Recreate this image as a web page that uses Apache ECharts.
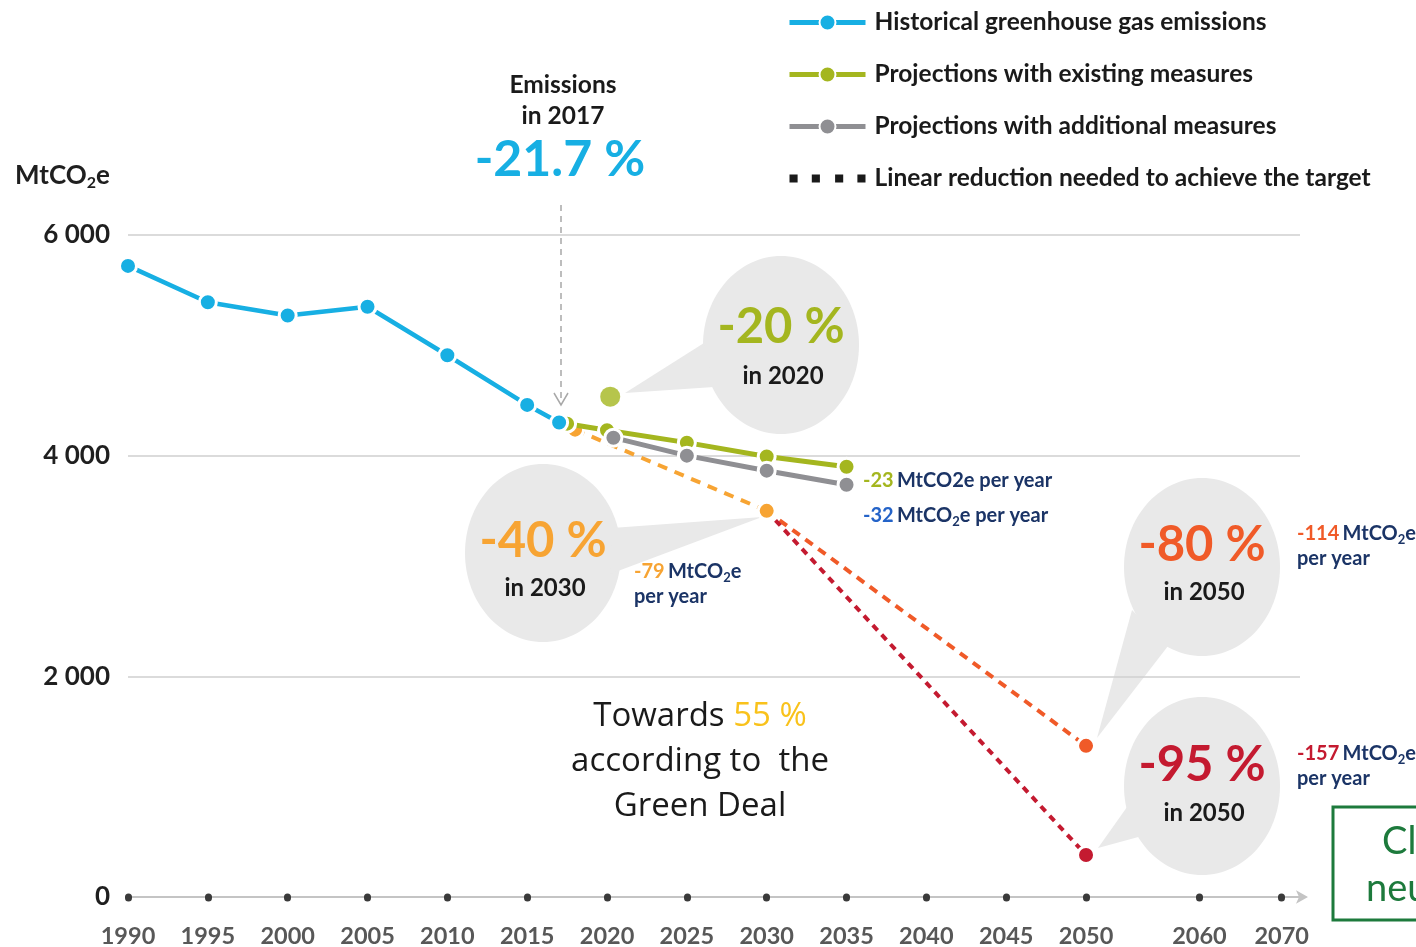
<!DOCTYPE html>
<html>
<head>
<meta charset="utf-8">
<title>Greenhouse gas emissions</title>
<script src="https://cdn.jsdelivr.net/npm/echarts@6/dist/echarts.min.js"></script>
<style>
html, body { margin: 0; padding: 0; background: #fff; }
#chart { width: 1416px; height: 947px; }
</style>
</head>
<body>
<div id="chart"></div>
<script>
// tick labels
const yearTicks = [1990, 1995, 2000, 2005, 2010, 2015, 2020, 2025, 2030, 2035, 2040, 2045, 2050]
// after 2050 the axis is squeezed, so 2060 / 2070 sit closer together
const farTickLabels = ['2060', '2070']
const farTickPos = [2057.1, 2062.25]

// series values [year, MtCO2e]
const historical = [[1990, 5720], [1995, 5390], [2000, 5270], [2005, 5350], [2010, 4910], [2015, 4460], [2017, 4300]]
const existing = [[2017.5, 4290], [2020, 4230], [2025, 4118], [2030, 3992], [2035, 3900]]
const additional = [[2020.4, 4163], [2025, 4000], [2030, 3864], [2035, 3737]]
const target2020 = [[2020.2, 4535]]
const path2030 = [[2018, 4236], [2030, 3500]]
const path2050a = [[2030, 3500], [2050, 1370]]
const path2050b = [[2030, 3500], [2050, 381]]

const CYAN = '#17afe3', GREEN = '#a4b61f', GREY = '#8f8f93'
const ORANGE = '#f7a433', RED_OR = '#f05a28', CRIMSON = '#c41a30'
const NAVY = '#1b3466', BUBBLE = '#e9e9e9'
const FONT = 'Lato'
const W = 'bold'

const chart = echarts.init(document.getElementById('chart'))

//带白边的圆点
function dot(color, size) {
    return {
        symbol: 'circle',
        symbolSize: size,
        itemStyle: { color: color, borderColor: '#fff', borderWidth: 3 }
    }
}

function bubble(cx, cy, tail, big, bigColor, small, bigY, smallY) {
    return {
        type: 'group',
        z: 0,
        children: [
            { type: 'ellipse', shape: { cx: cx, cy: cy, rx: 78, ry: 89 }, style: { fill: BUBBLE } },
            { type: 'polygon', shape: { points: tail }, style: { fill: BUBBLE } },
            {
                type: 'text', x: cx, y: bigY,
                style: { text: big, fill: bigColor, fontFamily: FONT, fontWeight: W, fontSize: 49, align: 'center', verticalAlign: 'middle' }
            },
            {
                type: 'text', x: cx + 2, y: smallY,
                style: { text: small, fill: '#1a1a1a', fontFamily: FONT, fontWeight: W, fontSize: 24, align: 'center', verticalAlign: 'middle' }
            }
        ]
    }
}

// rich text styles for "MtCO2e" with subscript
function tok(color, size, lh, va) {
    return { fontFamily: FONT, fontWeight: W, fontSize: size, fill: color, lineHeight: lh, verticalAlign: va || 'middle' }
}
const unitRich = {
    u: tok(NAVY, 20, 25),
    s: tok(NAVY, 13, 14, 'bottom'),
    g: tok(GREEN, 20, 25),
    b: tok('#2463c8', 20, 25),
    o: tok(ORANGE, 20, 25),
    r: tok(RED_OR, 20, 25),
    c: tok(CRIMSON, 20, 25)
}

function note(x, y, text) {
    return {
        type: 'text', x: x, y: y, z: 5,
        style: { text: text, rich: unitRich, align: 'left', verticalAlign: 'middle' }
    }
}

function plain(x, y, text, size, color) {
    return {
        type: 'text', x: x, y: y,
        style: { text: text, fontFamily: FONT, fontWeight: W, fontSize: size, fill: color, align: 'center', verticalAlign: 'middle' }
    }
}

chart.setOption({
    animation: false,
    backgroundColor: '#fff',
    grid: { left: 128, right: 116, top: 235, bottom: 50, outerBoundsMode: 'none' },
    legend: {
        orient: 'vertical',
        left: 782,
        top: 5,
        itemWidth: 76,
        itemHeight: 20,
        itemGap: 27,
        lineStyle: { width: 5 },
        textStyle: { fontFamily: FONT, fontWeight: W, fontSize: 24.5, color: '#1a1a1a', padding: [0, 0, 0, 4] },
        data: [
            'Historical greenhouse gas emissions',
            'Projections with existing measures',
            'Projections with additional measures',
            {
                name: 'Linear reduction needed to achieve the target',
                icon: 'path://M0 0h8v8h-8z M22 0h8v8h-8z M45 0h8v8h-8z M67 0h8v8h-8z',
                itemStyle: { color: '#1a1a1a', borderWidth: 0 }
            }
        ]
    },
    xAxis: {
        type: 'value',
        min: 1990,
        max: 2063.4,
        splitLine: { show: false },
        axisLine: {
            show: true,
            onZero: false,
            symbol: ['none', 'arrow'],
            symbolSize: [10, 12],
            symbolOffset: [0, 8],
            lineStyle: { color: '#c4c4c4', width: 2 }
        },
        axisTick: {
            show: true,
            customValues: yearTicks.concat(farTickPos),
            length: 1,
            lineStyle: { color: '#3a3a3a', width: 7, cap: 'round' }
        },
        axisLabel: {
            customValues: yearTicks.concat(farTickPos),
            margin: 27,
            fontFamily: FONT,
            fontWeight: W,
            fontSize: 23.5,
            color: '#585858',
            formatter: function (v) {
                for (let i = 0; i < farTickPos.length; i++) {
                    if (Math.abs(v - farTickPos[i]) < 0.01) return farTickLabels[i]
                }
                return String(Math.round(v))
            }
        }
    },
    yAxis: {
        type: 'value',
        min: 0,
        max: 6000,
        interval: 2000,
        axisLine: { show: false },
        axisTick: { show: false },
        splitLine: { lineStyle: { color: '#cfcfcf', width: 1.5 } },
        axisLabel: {
            margin: 18,
            padding: [0, 0, 7, 0],
            fontFamily: FONT,
            fontWeight: W,
            fontSize: 26,
            color: '#1f1f1f',
            formatter: function (v) { return v === 0 ? '0' : (v / 1000) + ' 000' }
        }
    },
    series: [
        {
            name: 'target -40',
            type: 'line',
            data: path2030,
            z: 2,
            lineStyle: { color: ORANGE, width: 4, type: [10, 8] },
            ...dot(ORANGE, 17)
        },
        {
            name: 'target -80',
            type: 'line',
            z: 2,
            data: [{ value: path2050a[0], symbol: 'none' }, path2050a[1]],
            lineStyle: { color: RED_OR, width: 4, type: [9, 7] },
            ...dot(RED_OR, 17)
        },
        {
            name: 'Linear reduction needed to achieve the target',
            type: 'line',
            z: 2,
            data: [{ value: path2050b[0], symbol: 'none' }, path2050b[1]],
            lineStyle: { color: CRIMSON, width: 4, type: [7, 6] },
            ...dot(CRIMSON, 17)
        },
        {
            name: 'Projections with existing measures',
            type: 'line',
            z: 3,
            data: existing,
            lineStyle: { color: GREEN, width: 5 },
            ...dot(GREEN, 17)
        },
        {
            name: 'target 2020',
            type: 'scatter',
            z: 3,
            data: target2020,
            symbolSize: 20,
            itemStyle: { color: GREEN }
        },
        {
            name: 'Projections with additional measures',
            type: 'line',
            z: 4,
            data: additional,
            lineStyle: { color: GREY, width: 5 },
            ...dot(GREY, 17)
        },
        {
            name: 'Historical greenhouse gas emissions',
            type: 'line',
            z: 5,
            data: historical,
            lineStyle: { color: CYAN, width: 4.5 },
            ...dot(CYAN, 17)
        }
    ],
    graphic: [
        // 单位
        {
            type: 'text', x: 15, y: 176,
            style: {
                text: '{u|MtCO}{s|2}{u|e}',
                align: 'left', verticalAlign: 'middle',
                rich: {
                    u: tok('#1f1f1f', 26, 30),
                    s: tok('#1f1f1f', 16, 16, 'bottom')
                }
            }
        },
        // 2017 annotation
        plain(563, 85, 'Emissions', 24.5, '#1a1a1a'),
        plain(563, 116, 'in 2017', 24.5, '#1a1a1a'),
        plain(560, 160, '-21.7 %', 50, CYAN),
        { type: 'line', shape: { x1: 561, y1: 205, x2: 561, y2: 404 }, style: { stroke: '#a8a8a8', lineWidth: 1.5, lineDash: [6, 5] } },
        { type: 'polyline', shape: { points: [[554, 393], [561, 405], [568, 393]] }, style: { stroke: '#a8a8a8', lineWidth: 1.5, fill: null } },

        bubble(781, 345, [[704, 343], [625, 393], [714, 387]], '-20 %', GREEN, 'in 2020', 327, 376),
        bubble(543, 553, [[612, 528], [762, 517], [610, 574]], '-40 %', ORANGE, 'in 2030', 541, 588),
        bubble(1202, 567, [[1132, 610], [1097, 738], [1168, 646]], '-80 %', RED_OR, 'in 2050', 545, 592),
        bubble(1202, 786, [[1132, 800], [1098, 848], [1142, 836]], '-95 %', CRIMSON, 'in 2050', 765, 813),

        // per-year notes
        note(863, 481, '{g|-23} {u|MtCO2e per year}'),
        note(863, 516, '{b|-32} {u|MtCO}{s|2}{u|e per year}'),
        note(634, 584, '{o|-79} {u|MtCO}{s|2}{u|e}\n{u|per year}'),
        note(1297, 546, '{r|-114} {u|MtCO}{s|2}{u|e}\n{u|per year}'),
        note(1297, 766, '{c|-157} {u|MtCO}{s|2}{u|e}\n{u|per year}'),

        // Green Deal text
        {
            type: 'text', x: 700, y: 762,
            style: {
                text: '{t|Towards }{y|55 %}\n{t|according to  the}\n{t|Green Deal}',
                align: 'center', verticalAlign: 'middle',
                rich: {
                    t: { fontFamily: 'Open Sans', fontSize: 33, fill: '#1a1a1a', lineHeight: 45 },
                    y: { fontFamily: 'Open Sans', fontSize: 33, fill: '#f9c21b', lineHeight: 45 }
                }
            }
        },

        // climate neutral box (cut off at the edge)
        { type: 'rect', shape: { x: 1333, y: 807, width: 120, height: 113 }, style: { fill: '#fff', stroke: '#1d7a3c', lineWidth: 3 } },
        { type: 'text', x: 1382, y: 842, style: { text: 'Climate', fontFamily: FONT, fontSize: 38, fill: '#1d7a3c', verticalAlign: 'middle' } },
        { type: 'text', x: 1366, y: 889, style: { text: 'neutral', fontFamily: FONT, fontSize: 38, fill: '#1d7a3c', verticalAlign: 'middle' } }
    ]
})
</script>
</body>
</html>
